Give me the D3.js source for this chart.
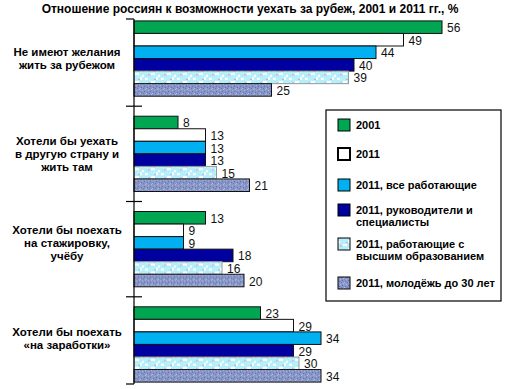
<!DOCTYPE html>
<html>
<head>
<meta charset="utf-8">
<script src="https://cdn.jsdelivr.net/npm/d3@7"></script>
<style>
  body { margin: 0; background: #fff; }
  text { font-family: "Liberation Sans", Arial, sans-serif; }
</style>
</head>
<body>
<div id="chart"></div>
<script>
// Data
var categories = [
  "Не имеют желания|жить за рубежом",
  "Хотели бы уехать|в другую страну и|жить там",
  "Хотели бы поехать|на стажировку,|учёбу",
  "Хотели бы поехать|«на заработки»"
];
var seriesNames = [
  "2001",
  "2011",
  "2011, все работающие",
  "2011, руководители и|специалисты",
  "2011, работающие с|высшим образованием",
  "2011, молодёжь до 30 лет"
];
var values2001 = [56, 8, 13, 23];
var values2011 = [49, 13, 9, 29];
var valuesWorking = [44, 13, 9, 34];
var valuesManagers = [40, 13, 18, 29];
var valuesHigherEd = [39, 15, 16, 30];
var valuesYouth = [25, 21, 20, 34];
var allSeries = [values2001, values2011, valuesWorking, valuesManagers, valuesHigherEd, valuesYouth];

var fills = ["#00a651", "#ffffff", "#00b0f0", "#0000a0", "url(#patEdu)", "url(#patYouth)"];
var strokes = ["#111", "#111", "#111", "#111", "#999", "#111"];

var svgWidth = 507, svgHeight = 389;

var svg = d3.select("#chart").append("svg")
  .attr("width", svgWidth)
  .attr("height", svgHeight);

// patterns
var defs = svg.append("defs");
var p1 = defs.append("pattern").attr("id", "patEdu")
  .attr("patternUnits", "userSpaceOnUse").attr("width", 16).attr("height", 8);
p1.append("rect").attr("width", 16).attr("height", 8).attr("fill", "#b4f0f8");
[[1,1,3,2,"#fff"],[7,4,4,2,"#fff"],[12,0,2,3,"#fff"],[4,5,2,2,"#e8b0f0"],[10,2,2,1,"#c8a0e8"],[14,6,2,2,"#fff"],[2,6,1,1,"#9fd8f0"]]
  .forEach(function(r) {
    p1.append("rect").attr("x", r[0]).attr("y", r[1]).attr("width", r[2]).attr("height", r[3]).attr("fill", r[4]);
  });
var p2 = defs.append("pattern").attr("id", "patYouth")
  .attr("patternUnits", "userSpaceOnUse").attr("width", 6).attr("height", 5);
p2.append("rect").attr("width", 6).attr("height", 5).attr("fill", "#8a96c8");
[[0,0,"#5c6cb0"],[3,1,"#5c6cb0"],[1,3,"#9fd0d0"],[4,4,"#b0b8e0"],[5,2,"#6878b8"],[2,2,"#a8c8d8"]].forEach(function(r) {
  p2.append("rect").attr("x", r[0]).attr("y", r[1]).attr("width", 1).attr("height", 1).attr("fill", r[2]);
});

// title
svg.append("text")
  .attr("x", 250).attr("y", 13)
  .attr("text-anchor", "middle")
  .attr("font-size", "12px").attr("font-weight", "bold")
  .text("Отношение россиян к возможности уехать за рубеж, 2001 и 2011 гг., %");

// scales
var axisX = 134, axisTop = 19, axisBottom = 384;

var yScale = d3.scaleBand()
  .domain(d3.range(categories.length))
  .range([axisTop, axisBottom])
  .paddingInner(0.21)
  .paddingOuter(0.02);

var ySub = d3.scaleBand()
  .domain(d3.range(seriesNames.length))
  .range([0, yScale.bandwidth()]);

var xScale = d3.scaleLinear()
  .domain([0, 56])
  .range([axisX, 442]);

// bars
var chartGroup = svg.append("g");

categories.forEach(function(cat, ci) {
  var g = chartGroup.append("g")
    .attr("transform", "translate(0," + yScale(ci) + ")");
  allSeries.forEach(function(vals, si) {
    g.append("rect")
      .attr("x", xScale(0))
      .attr("y", ySub(si))
      .attr("width", xScale(vals[ci]) - xScale(0))
      .attr("height", ySub.bandwidth())
      .attr("fill", fills[si])
      .attr("stroke", strokes[si])
      .attr("stroke-width", 1);
    g.append("text")
      .attr("x", xScale(vals[ci]) + 5)
      .attr("y", ySub(si) + ySub.bandwidth() / 2 + 5)
      .attr("font-size", "12px")
      .attr("fill", "#111")
      .text(vals[ci]);
  });

  // category label
  var lines = cat.split("|");
  var cy = yScale(ci) + yScale.bandwidth() / 2 - (ci > 1 ? 6 : 0);
  var lt = svg.append("text")
    .attr("text-anchor", "middle")
    .attr("font-size", "11.5px")
    .attr("font-weight", "bold");
  lines.forEach(function(line, li) {
    lt.append("tspan")
      .attr("x", 67)
      .attr("y", cy + 4 + (li - (lines.length - 1) / 2) * 13)
      .text(line);
  });
});

// axis line with cross ticks between categories
svg.append("line")
  .attr("x1", axisX).attr("x2", axisX)
  .attr("y1", axisTop).attr("y2", axisBottom)
  .attr("stroke", "#000").attr("stroke-width", 1.2);

var tickYs = [axisTop, axisBottom];
d3.range(1, categories.length).forEach(function(i) {
  tickYs.push(yScale(i) - yScale.step() * yScale.paddingInner() / 2);
});
tickYs.forEach(function(ty, i) {
  var inner = i > 1;
  svg.append("line")
    .attr("x1", axisX - 8).attr("x2", inner ? axisX + 8 : axisX)
    .attr("y1", ty).attr("y2", ty)
    .attr("stroke", "#000").attr("stroke-width", 1.2);
});

// legend
var legend = svg.append("g");
legend.append("rect")
  .attr("x", 326).attr("y", 110)
  .attr("width", 175).attr("height", 191)
  .attr("fill", "#fff").attr("stroke", "#000").attr("stroke-width", 1.2);

var legendY = [125, 154, 185, 210, 244, 283];
seriesNames.forEach(function(name, si) {
  var ly = legendY[si];
  legend.append("rect")
    .attr("x", 338).attr("y", ly - 6)
    .attr("width", 12).attr("height", 12)
    .attr("fill", fills[si])
    .attr("stroke", "#000")
    .attr("stroke-width", si === 1 ? 2 : 1);
  var t = legend.append("text")
    .attr("font-size", "11px")
    .attr("font-weight", "bold");
  name.split("|").forEach(function(line, li) {
    t.append("tspan")
      .attr("x", 356)
      .attr("y", ly + 4 + li * 12)
      .text(line);
  });
});
</script>
</body>
</html>
